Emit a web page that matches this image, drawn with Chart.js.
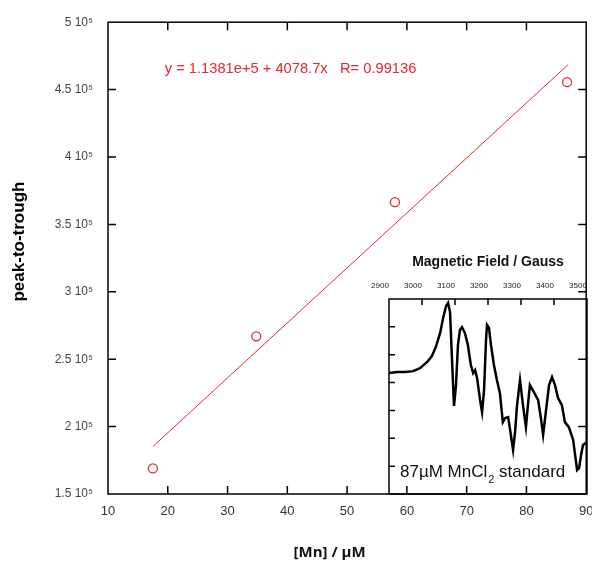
<!DOCTYPE html>
<html>
<head>
<meta charset="utf-8">
<script src="https://cdn.jsdelivr.net/npm/chart.js@4"></script>
<style>
  html, body { margin: 0; padding: 0; background: #fff; }
  #wrap { position: relative; width: 592px; height: 563px; }
  #main { position: absolute; left: 0; top: 0; }
  #inset { position: absolute; left: 370px; top: 245px; }
</style>
</head>
<body>
<div id="wrap">
  <canvas id="main" width="592" height="563" style="width:592px;height:563px"></canvas>
  <canvas id="inset" width="222" height="252" style="width:222px;height:252px"></canvas>
</div>
<script>
// main plot: peak-to-trough vs [Mn]
const mnConc = [17.5, 34.8, 58, 86.8];
const peakToTrough = [169000, 267000, 366500, 455500];
const fitX = [17.5, 87];
const fitY = [185190, 468650];
const xTicks = [10, 20, 30, 40, 50, 60, 70, 80, 90];
const yTicks = [150000, 200000, 250000, 300000, 350000, 400000, 450000, 500000];
const fitLabel = 'y = 1.1381e+5 + 4078.7x   R= 0.99136';

// inset: EPR spectrum of 87 uM MnCl2 standard
const fieldGauss = [2900, 2924, 2948, 2973, 2994, 3018, 3030, 3042, 3055, 3064, 3073, 3079, 3085, 3091,
  3097, 3103, 3109, 3115, 3121, 3130, 3139, 3148, 3155, 3161, 3167, 3176, 3182, 3188, 3194, 3197,
  3203, 3209, 3218, 3227, 3236, 3245, 3252, 3261, 3267, 3276, 3282, 3288, 3297, 3306, 3315, 3321,
  3327, 3339, 3352, 3361, 3367, 3376, 3385, 3394, 3403, 3412, 3424, 3433, 3445, 3458, 3464, 3470,
  3476, 3482, 3488, 3500];
const eprSignal = [4.34, 4.38, 4.38, 4.41, 4.52, 4.77, 4.95, 5.28, 5.78, 6.32, 6.75, 6.86, 6.53, 4.81,
  3.16, 3.91, 5.35, 5.89, 5.99, 5.78, 5.35, 4.63, 4.34, 4.45, 4.16, 3.37, 2.94, 3.73, 5.53, 6.07,
  5.96, 5.35, 4.63, 4.09, 3.63, 2.58, 2.73, 2.76, 2.30, 1.58, 2.23, 3.19, 4.09, 3.19, 2.40, 3.19,
  3.91, 3.66, 3.37, 2.66, 2.12, 3.02, 3.91, 4.20, 3.91, 3.45, 3.19, 2.58, 2.40, 1.94, 1.40, 0.86,
  0.93, 1.40, 1.76, 1.87];
const fieldTicks = [2900, 3000, 3100, 3200, 3300, 3400, 3500];
const signalTicks = [0, 1, 2, 3, 4, 5, 6, 7];

const RED = '#e8262c';
const FONT = "'Liberation Sans', Arial, sans-serif";

// box round the plot + ticks pointing inwards
const innerTicks = {
  id: 'innerTicks',
  afterDraw(chart, args, opts) {
    const { ctx, chartArea: a } = chart;
    const xs = chart.scales.x, ys = chart.scales.y;
    const L = opts.len;
    ctx.save();
    ctx.strokeStyle = '#000';
    ctx.lineWidth = 1.5;
    ctx.beginPath();
    opts.xValues.forEach(v => {
      const p = xs.getPixelForValue(v);
      if (opts.xSides.includes('top')) { ctx.moveTo(p, a.top); ctx.lineTo(p, a.top + L); }
      if (opts.xSides.includes('bottom')) { ctx.moveTo(p, a.bottom); ctx.lineTo(p, a.bottom - L); }
    });
    opts.yValues.forEach(v => {
      const p = ys.getPixelForValue(v);
      if (opts.ySides.includes('left')) { ctx.moveTo(a.left, p); ctx.lineTo(a.left + L, p); }
      if (opts.ySides.includes('right')) { ctx.moveTo(a.right, p); ctx.lineTo(a.right - L, p); }
    });
    ctx.stroke();
    ctx.strokeRect(a.left, a.top, a.right - a.left, a.bottom - a.top);
    ctx.restore();
  }
};

// text notes (fit equation, inset caption)
const notes = {
  id: 'notes',
  afterDraw(chart, args, opts) {
    const ctx = chart.ctx;
    ctx.save();
    if (opts.fit) {
      ctx.fillStyle = RED;
      ctx.font = '14.7px ' + FONT;
      ctx.textBaseline = 'middle';
      ctx.fillText(fitLabel, chart.scales.x.getPixelForValue(19.5), chart.scales.y.getPixelForValue(465000));
    }
    if (opts.caption) {
      const a = chart.chartArea;
      let x = a.left + 11, y = a.bottom - 17;
      ctx.fillStyle = '#111';
      ctx.textBaseline = 'alphabetic';
      ctx.font = '17px ' + FONT;
      ctx.fillText('87\u00b5M MnCl', x, y);
      x += ctx.measureText('87\u00b5M MnCl').width + 1;
      ctx.font = '11px ' + FONT;
      ctx.fillText('2', x, y + 6);
      x += ctx.measureText('2').width;
      ctx.font = '17px ' + FONT;
      ctx.fillText(' standard', x, y);
    }
    ctx.restore();
  }
};

const noSidePad = s => { s.paddingLeft = 0; s.paddingRight = 0; };

new Chart(document.getElementById('main'), {
  type: 'scatter',
  data: {
    datasets: [
      {
        data: mnConc.map((x, i) => ({ x: x, y: peakToTrough[i] })),
        pointStyle: 'circle',
        pointRadius: 4.5,
        pointBorderWidth: 1.3,
        pointBorderColor: RED,
        pointBackgroundColor: 'rgba(0,0,0,0)',
        showLine: false
      },
      {
        data: fitX.map((x, i) => ({ x: x, y: fitY[i] })),
        showLine: true,
        borderColor: RED,
        borderWidth: 1,
        pointRadius: 0
      }
    ]
  },
  options: {
    responsive: false,
    animation: false,
    layout: { padding: { top: 21, right: 5, left: 0, bottom: 0 } },
    plugins: {
      legend: { display: false },
      tooltip: { enabled: false },
      innerTicks: { len: 8, xValues: xTicks.slice(1, -1), yValues: yTicks.slice(1, -1),
        xSides: ['top', 'bottom'], ySides: ['left', 'right'] },
      notes: { fit: true }
    },
    scales: {
      x: {
        type: 'linear', min: 10, max: 90,
        afterBuildTicks: s => { s.ticks = xTicks.map(v => ({ value: v })); },
        afterFit: s => { s.height = 69; noSidePad(s); },
        grid: { display: false, drawTicks: false },
        border: { display: false },
        ticks: { padding: 10, color: '#333', font: { family: FONT, size: 13 } },
        title: { display: true, text: '[Mn] / \u00b5M         ', color: '#111',
          padding: { top: 0, bottom: 1 }, font: { family: "'Open Sans', sans-serif", size: 15, weight: 'bold' } }
      },
      y: {
        type: 'linear', min: 150000, max: 500000,
        afterBuildTicks: s => { s.ticks = yTicks.map(v => ({ value: v })); },
        afterFit: s => { s.width = 108; },
        grid: { display: false, drawTicks: false },
        border: { display: false },
        ticks: { padding: 15, color: '#444', font: { family: FONT, size: 12 },
          callback: v => (v / 100000) + ' 10\u2075' },
        title: { display: true, text: '       peak-to-trough', color: '#000',
          padding: { top: 9, bottom: 0 }, font: { family: FONT, size: 17, weight: 'bold' } }
      }
    }
  },
  plugins: [innerTicks, notes]
});

new Chart(document.getElementById('inset'), {
  type: 'line',
  data: {
    datasets: [{
      data: fieldGauss.map((x, i) => ({ x: x, y: eprSignal[i] })),
      borderColor: '#000',
      borderWidth: 2.5,
      pointRadius: 0,
      tension: 0
    }]
  },
  options: {
    responsive: false,
    animation: false,
    layout: { padding: { top: 0, right: 5, left: 0, bottom: 3 } },
    plugins: {
      legend: { display: false },
      tooltip: { enabled: false },
      innerTicks: { len: 6, xValues: fieldTicks.slice(1, -1), yValues: signalTicks.slice(1, -1),
        xSides: ['top'], ySides: ['left'] },
      notes: { caption: true }
    },
    scales: {
      x: {
        type: 'linear', position: 'top', min: 2900, max: 3500,
        afterBuildTicks: s => { s.ticks = fieldTicks.map(v => ({ value: v })); },
        afterFit: s => { s.height = 54; noSidePad(s); },
        grid: { display: false, drawTicks: false },
        border: { display: false },
        ticks: { padding: 8, labelOffset: -9, color: '#222', font: { family: FONT, size: 8 },
          callback: v => String(v) },
        title: { display: true, text: 'Magnetic Field / Gauss', color: '#111',
          padding: { top: 9, bottom: 0 }, font: { family: FONT, size: 14, weight: 'bold' } }
      },
      y: {
        type: 'linear', min: 0, max: 7,
        afterBuildTicks: s => { s.ticks = signalTicks.map(v => ({ value: v })); },
        afterFit: s => { s.width = 19; },
        grid: { display: false, drawTicks: false },
        border: { display: false },
        ticks: { display: false }
      }
    }
  },
  plugins: [innerTicks, notes]
});
</script>
</body>
</html>
